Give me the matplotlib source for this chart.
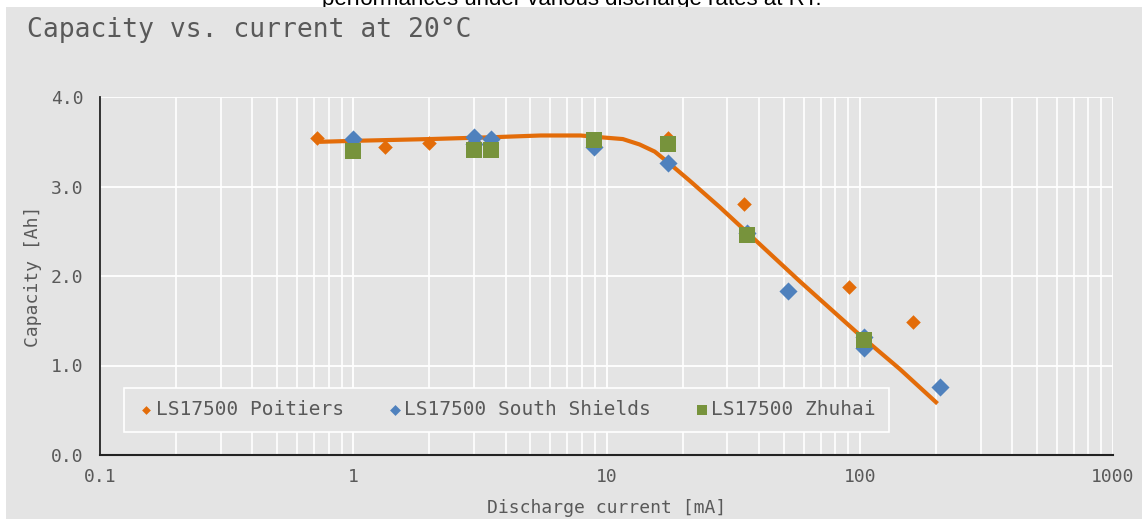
# Capacity vs. discharge current for LS17500 cells
import matplotlib.pyplot as plt

# Data
poitiers_x = [0.72, 1.33, 2.0, 3.0, 3.5, 17.5, 35, 91, 162]
poitiers_y = [3.54, 3.44, 3.49, 3.50, 3.52, 3.54, 2.80, 1.88, 1.49]

shields_x = [1.0, 3.0, 3.0, 3.5, 8.9, 17.5, 36, 52, 104, 104, 207]
shields_y = [3.53, 3.55, 3.48, 3.53, 3.44, 3.26, 2.48, 1.83, 1.32, 1.20, 0.76]

zhuhai_x = [1.0, 3.0, 3.5, 8.9, 17.5, 36, 104]
zhuhai_y = [3.40, 3.41, 3.41, 3.52, 3.47, 2.46, 1.29]

# hand-drawn trend curve, read point by point
trend_x = [0.75, 1.0, 2.0, 3.5, 5.5, 7.9, 9.5, 11.6, 13.5, 15.5, 17.5,
           21.2, 28, 35.8, 58, 100, 144, 200]
trend_y = [3.50, 3.51, 3.53, 3.55, 3.57, 3.57, 3.55, 3.53, 3.47, 3.39, 3.27,
           3.07, 2.77, 2.49, 1.94, 1.34, 0.96, 0.59]

x_ticks = [0.1, 1, 10, 100, 1000]
x_tick_labels = ['0.1', '1', '10', '100', '1000']
y_ticks = [0, 1, 2, 3, 4]

bg = '#e4e4e4'
txt = '#595959'
orange = '#e36c09'
blue = '#4f81bd'
green = '#77933c'

plt.rcParams['font.family'] = ['DejaVu Sans Mono', 'DejaVu Sans']

fig = plt.figure(figsize=(11.43, 5.19), dpi=100)
fig.patch.set_facecolor('white')

# grey chart panel behind everything
panel = fig.add_axes([6 / 1143, 0, 1136 / 1143, 512 / 519], zorder=-1)
panel.set_facecolor(bg)
panel.set_xticks([])
panel.set_yticks([])
for s in panel.spines.values():
    s.set_visible(False)

# clipped caption from the page above (panel hides its lower part)
fig.text(0.5, 1.0 - 5 / 519, 'performances under various discharge rates at RT.',
         ha='center', va='baseline', fontsize=16, color='black',
         family='Liberation Sans', zorder=-2)

ax = fig.add_axes([100 / 1143, 64 / 519, 1013 / 1143, 358 / 519])
ax.set_facecolor(bg)
ax.set_xscale('log')
ax.set_xlim(0.1, 1000)
ax.set_ylim(0, 4)

ax.grid(True, which='major', axis='both', color='white', linewidth=1.3)
ax.grid(True, which='minor', axis='x', color='white', linewidth=1.2)
ax.set_axisbelow(True)

ax.plot(trend_x, trend_y, color=orange, linewidth=3, zorder=2)
ax.scatter(poitiers_x, poitiers_y, marker='D', s=55, color=orange, zorder=3,
           label='LS17500 Poitiers', linewidths=0)
ax.scatter(shields_x, shields_y, marker='D', s=85, color=blue, zorder=3,
           label='LS17500 South Shields', linewidths=0)
ax.scatter(zhuhai_x, zhuhai_y, marker='s', s=130, color=green, zorder=4,
           label='LS17500 Zhuhai', linewidths=0)

ax.set_xticks(x_ticks)
ax.set_xticklabels(x_tick_labels)
ax.set_yticks(y_ticks)
ax.set_yticklabels([f'{v:.1f}' for v in y_ticks])
ax.tick_params(axis='both', which='both', length=0, labelsize=13,
               labelcolor=txt)
ax.tick_params(axis='x', pad=9)
ax.tick_params(axis='y', pad=12)

for side in ['top', 'right']:
    ax.spines[side].set_visible(False)
ax.spines['left'].set_color('#222222')
ax.spines['bottom'].set_color('#222222')
ax.spines['left'].set_linewidth(1.3)
ax.spines['bottom'].set_linewidth(1.5)

ax.set_xlabel('Discharge current [mA]', fontsize=13, color=txt, labelpad=10)
ax.set_ylabel('Capacity [Ah]', fontsize=13, color=txt, labelpad=6)

leg = ax.legend(loc='lower left', bbox_to_anchor=(24 / 1013, 23 / 358),
                borderaxespad=0, ncol=3, fontsize=14, frameon=True,
                facecolor=bg, edgecolor='white', framealpha=1, fancybox=False,
                handletextpad=0.0, columnspacing=2.1, markerscale=0.6,
                borderpad=0.65, handlelength=1.0)
leg.get_frame().set_linewidth(1.2)
for t in leg.get_texts():
    t.set_color(txt)

fig.text(27 / 1143, 1 - 30 / 519, 'Capacity vs. current at 20°C',
         fontsize=19, color=txt, va='center', ha='left')

fig.savefig('out.png', dpi=100, facecolor=fig.get_facecolor())
